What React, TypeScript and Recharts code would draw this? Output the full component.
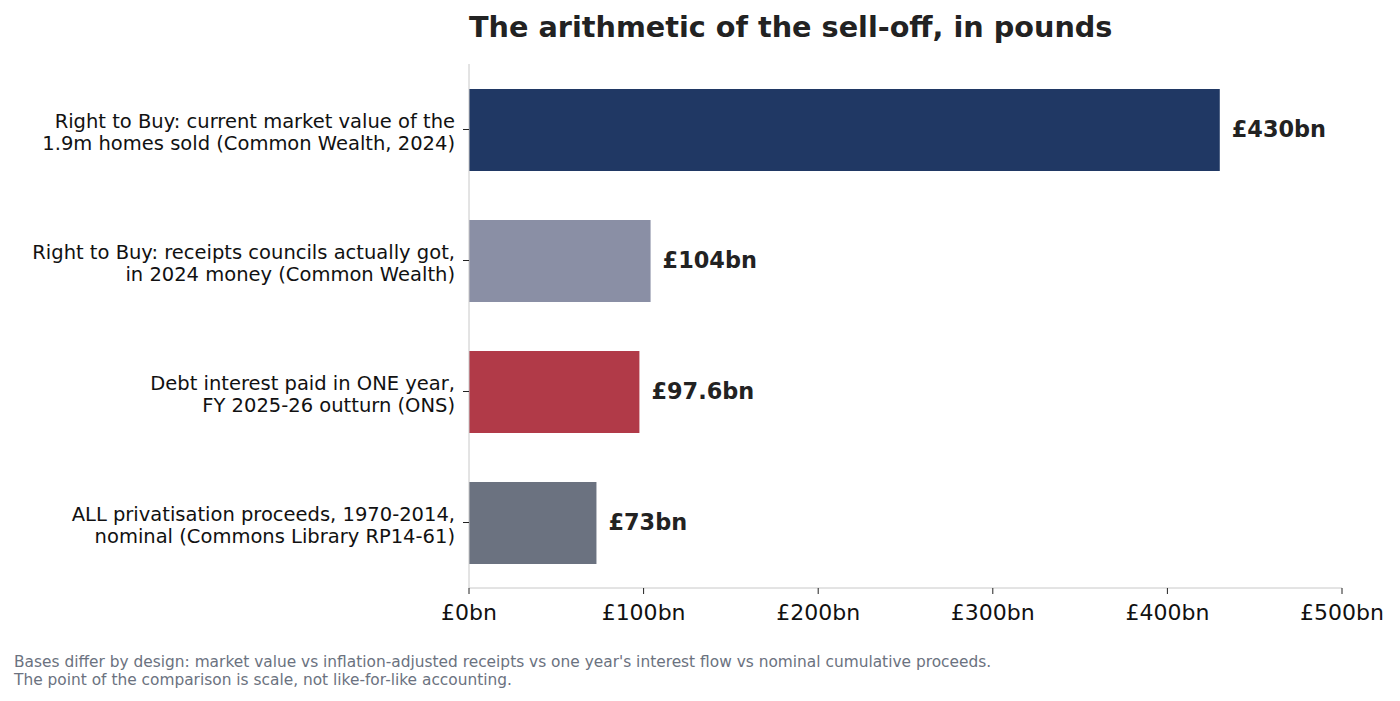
import { BarChart, Bar, XAxis, YAxis, Cell, LabelList } from 'recharts';

const categories = [
  ['Right to Buy: current market value of the', '1.9m homes sold (Common Wealth, 2024)'],
  ['Right to Buy: receipts councils actually got,', 'in 2024 money (Common Wealth)'],
  ['Debt interest paid in ONE year,', 'FY 2025-26 outturn (ONS)'],
  ['ALL privatisation proceeds, 1970-2014,', 'nominal (Commons Library RP14-61)'],
];
const values = [430, 104, 97.6, 73];
const valueLabels = ['£430bn', '£104bn', '£97.6bn', '£73bn'];
const xTicks = [0, 100, 200, 300, 400, 500];
const barColors = ['#203864', '#8a8fa5', '#b13a48', '#6b7280'];

const FONT = '"DejaVu Sans", sans-serif';

const data = categories.map((lines, i) => ({
  key: String(i),
  lines,
  value: values[i],
  label: valueLabels[i],
}));

function CategoryTick(props: any) {
  const { x, y, payload } = props;
  const lines = data[Number(payload.value)].lines;
  return (
    <g>
      <line x1={x + 2} x2={x + 8} y1={y} y2={y} stroke="#222" strokeWidth={1} />
      <text x={x - 6} y={y} textAnchor="end" fontFamily={FONT} fontSize={19.5} fill="#111">
        <tspan x={x - 6} dy={-2}>{lines[0]}</tspan>
        <tspan x={x - 6} dy={22}>{lines[1]}</tspan>
      </text>
    </g>
  );
}

function MoneyTick(props: any) {
  const { x, y, payload } = props;
  return (
    <g>
      <line x1={x} x2={x} y1={y - 8} y2={y - 2} stroke="#222" strokeWidth={1} />
      <text x={x} y={y + 24} textAnchor="middle" fontFamily={FONT} fontSize={22} fill="#111">
        £{payload.value}bn
      </text>
    </g>
  );
}

function ValueLabel(props: any) {
  const { x, y, width, height, index } = props;
  return (
    <text
      x={x + width + 12}
      y={y + height / 2 + 7}
      fontFamily={FONT}
      fontSize={22.4}
      fontWeight="bold"
      fill="#222"
    >
      {data[index].label}
    </text>
  );
}

export default function App() {
  return (
    <div style={{ position: 'absolute', left: 0, top: 0, width: 1400, height: 701, background: '#fff' }}>
      <div
        style={{
          position: 'absolute',
          left: 469,
          top: 10,
          fontFamily: FONT,
          fontSize: 28.7,
          fontWeight: 'bold',
          color: '#222',
          whiteSpace: 'nowrap',
        }}
      >
        The arithmetic of the sell-off, in pounds
      </div>
      <BarChart
        width={1400}
        height={701}
        data={data}
        layout="vertical"
        margin={{ top: 64, right: 58, bottom: 63, left: 9 }}
      >
        <XAxis
          type="number"
          domain={[0, 500]}
          ticks={xTicks}
          height={50}
          axisLine={{ stroke: '#c8c8c8' }}
          tickLine={false}
          tick={<MoneyTick />}
          interval={0}
        />
        <YAxis
          type="category"
          dataKey="key"
          width={460}
          axisLine={{ stroke: '#c8c8c8' }}
          tickLine={false}
          tick={<CategoryTick />}
          interval={0}
        />
        <Bar dataKey="value" barSize={82} isAnimationActive={false}>
          {data.map((d, i) => (
            <Cell key={d.key} fill={barColors[i]} />
          ))}
          <LabelList dataKey="value" content={<ValueLabel />} />
        </Bar>
      </BarChart>
      <div
        style={{
          position: 'absolute',
          left: 14,
          top: 654,
          fontFamily: FONT,
          fontSize: 15.4,
          lineHeight: '17.5px',
          color: '#6b7280',
          whiteSpace: 'nowrap',
        }}
      >
        Bases differ by design: market value vs inflation-adjusted receipts vs one year's interest flow vs nominal cumulative proceeds.
        <br />
        The point of the comparison is scale, not like-for-like accounting.
      </div>
    </div>
  );
}
